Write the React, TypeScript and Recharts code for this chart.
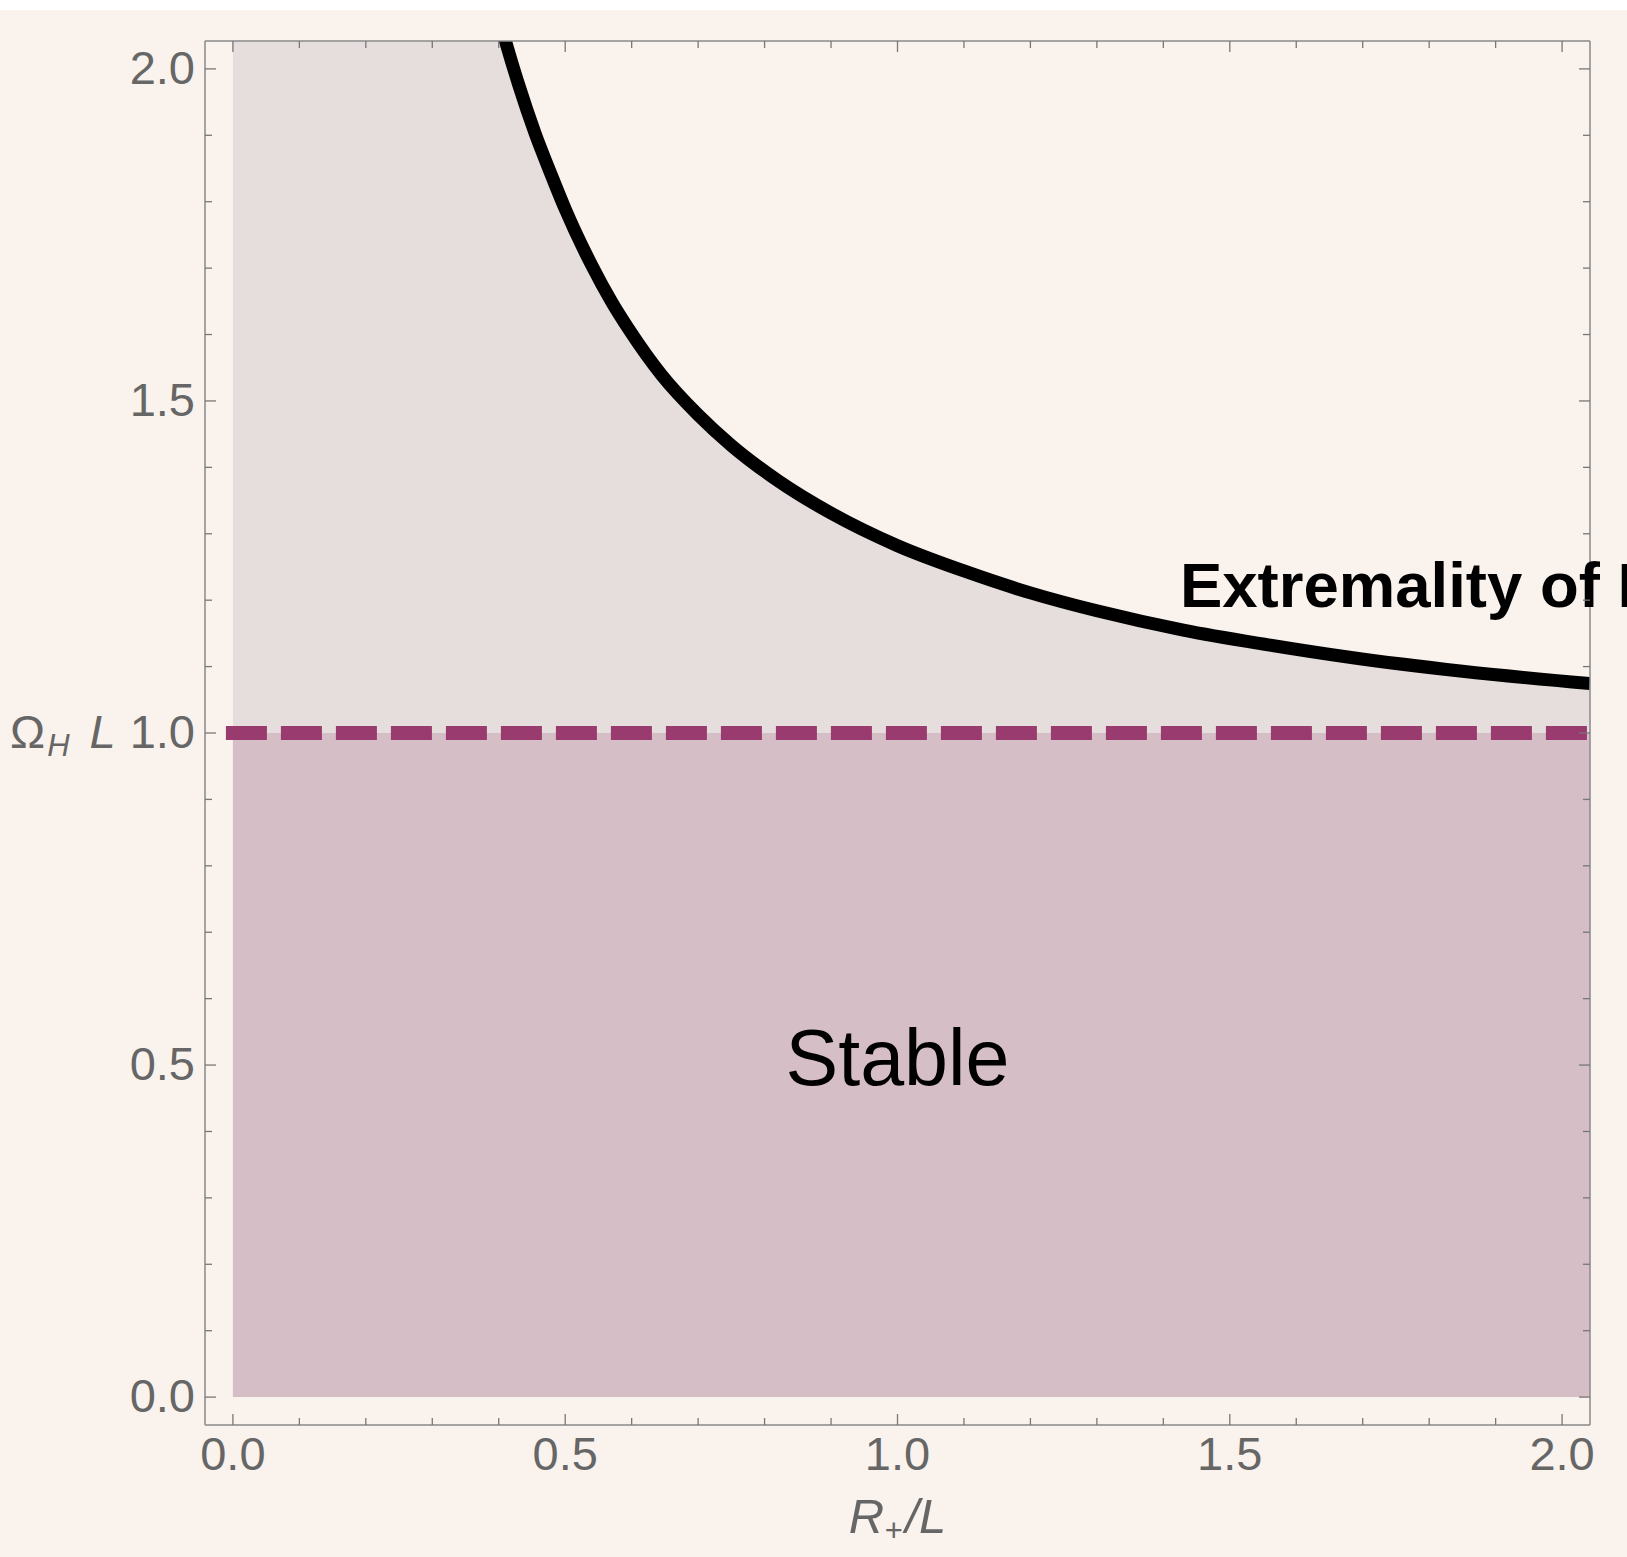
import React from 'react';
import {
  ComposedChart,
  XAxis,
  YAxis,
  Line,
  Area,
  ReferenceArea,
  ReferenceLine,
  ReferenceDot,
} from 'recharts';

const FONT = '"Liberation Sans", Arial, Helvetica, sans-serif';
const BG = '#FAF2EC';
const BAND = '#E6DEDD';
const STABLE = '#D5BEC6';
const DASH = '#993B6F';
const FRAME = '#8A8A8A';
const TICK = '#777777';
const LABEL = '#666666';

// axis ranges (frame padding included)
const xMin = -0.042;
const xMax = 2.042;
const yMin = -0.042;
const yMax = 2.042;

// tick values (major ticks carry labels)
const tickValues = [
  0, 0.1, 0.2, 0.3, 0.4, 0.5, 0.6, 0.7, 0.8, 0.9, 1.0, 1.1, 1.2, 1.3, 1.4, 1.5,
  1.6, 1.7, 1.8, 1.9, 2.0,
];
const majorTicks = [0, 0.5, 1.0, 1.5, 2.0];

// extremality curve: R+/L -> Omega_H L
const curveR = [
  0.403, 0.4104, 0.43, 0.4543, 0.48, 0.5, 0.539, 0.57, 0.597, 0.645, 0.7, 0.75,
  0.82, 0.9, 1.0, 1.1, 1.2, 1.3, 1.43, 1.55, 1.68, 1.85, 2.042,
];
const curveOmega = [
  2.067, 2.041, 1.976, 1.904, 1.838, 1.789, 1.706, 1.649, 1.606, 1.539, 1.479,
  1.433, 1.38, 1.331, 1.282, 1.244, 1.211, 1.184, 1.155, 1.134, 1.114, 1.093,
  1.0745,
];

// superradiance bound Omega_H L = 1 and stable region
const boundOmega = 1;
const stableStart = 0;

// text annotations
const stableLabel = { x: 1.0, y: 0.5, text: 'Stable' };
const extremalLabel = { x: 1.425, y: 1.19, text: 'Extremality of Kerr-AdS' };

const data = [
  { x: stableStart, band: [boundOmega, yMax] as number[] },
  ...curveR.map((r, i) => ({
    x: r,
    omega: curveOmega[i],
    band: [boundOmega, Math.min(curveOmega[i], yMax)],
  })),
];

const isMajor = (v: number) => majorTicks.some((m) => Math.abs(m - v) < 1e-6);
const fmt = (v: number) => v.toFixed(1);

const BottomTick = (props: any) => {
  const { x, y, payload } = props;
  const v = payload.value;
  const major = isMajor(v);
  return (
    <g>
      <line x1={x} x2={x} y1={y} y2={y - (major ? 11 : 7)} stroke={TICK} strokeWidth={1.3} />
      {major && (
        <text x={x} y={y + 45} textAnchor="middle" fontSize={47} fill={LABEL} fontFamily={FONT}>
          {fmt(v)}
        </text>
      )}
    </g>
  );
};

const TopTick = (props: any) => {
  const { x, y, payload } = props;
  const v = payload.value;
  const major = isMajor(v);
  return <line x1={x} x2={x} y1={y} y2={y + (major ? 11 : 7)} stroke={TICK} strokeWidth={1.3} />;
};

const LeftTick = (props: any) => {
  const { x, y, payload } = props;
  const v = payload.value;
  const major = isMajor(v);
  return (
    <g>
      <line x1={x} x2={x + (major ? 11 : 7)} y1={y} y2={y} stroke={TICK} strokeWidth={1.3} />
      {major && (
        <text x={x - 10} y={y + 15} textAnchor="end" fontSize={47} fill={LABEL} fontFamily={FONT}>
          {fmt(v)}
        </text>
      )}
      {Math.abs(v - boundOmega) < 1e-6 && (
        <text x={10} y={y + 15} fontSize={47} fill={LABEL} fontFamily={FONT}>
          <tspan>Ω</tspan>
          <tspan fontSize={31} fontStyle="italic" dy={8} dx={2}>H</tspan>
          <tspan fontStyle="italic" dy={-8} dx={20}>L</tspan>
        </text>
      )}
    </g>
  );
};

const RightTick = (props: any) => {
  const { x, y, payload } = props;
  const v = payload.value;
  const major = isMajor(v);
  return <line x1={x} x2={x - (major ? 11 : 7)} y1={y} y2={y} stroke={TICK} strokeWidth={1.3} />;
};

const XTitle = (props: any) => {
  const vb = props.viewBox || { x: 205, y: 1425, width: 1385 };
  const cx = vb.x + vb.width / 2;
  return (
    <text x={cx} y={vb.y + 108} textAnchor="middle" fontSize={49} fill={LABEL} fontFamily={FONT} fontStyle="italic">
      <tspan>R</tspan>
      <tspan fontSize={31} dy={8}>+</tspan>
      <tspan dy={-8} dx={3}>/L</tspan>
    </text>
  );
};

export default function App() {
  return (
    <div
      style={{
        position: 'absolute',
        left: 0,
        top: 0,
        width: 1627,
        height: 1557,
        overflow: 'hidden',
        background: BG,
      }}
    >
      <div style={{ position: 'absolute', left: 0, top: 0, width: 1627, height: 10, background: '#FFFFFF' }} />
      <div style={{ position: 'absolute', left: 0, top: 0 }}>
        <ComposedChart width={1627} height={1557} data={data} margin={{ top: 0, right: 0, bottom: 0, left: 0 }}>
          <XAxis
            dataKey="x"
            type="number"
            domain={[xMin, xMax]}
            allowDataOverflow
            ticks={tickValues}
            interval={0}
            orientation="bottom"
            height={132}
            tickSize={0}
            tickMargin={0}
            tickLine={false}
            axisLine={{ stroke: FRAME, strokeWidth: 1.5 }}
            tick={<BottomTick />}
            label={{ content: (p: any) => <XTitle {...p} /> }}
          />
          <XAxis
            xAxisId="top"
            dataKey="x"
            type="number"
            domain={[xMin, xMax]}
            allowDataOverflow
            ticks={tickValues}
            interval={0}
            orientation="top"
            height={41}
            tickSize={0}
            tickMargin={0}
            tickLine={false}
            axisLine={{ stroke: FRAME, strokeWidth: 1.5 }}
            tick={<TopTick />}
          />
          <YAxis
            type="number"
            domain={[yMin, yMax]}
            allowDataOverflow
            ticks={tickValues}
            interval={0}
            orientation="left"
            width={205}
            tickSize={0}
            tickMargin={0}
            tickLine={false}
            axisLine={{ stroke: FRAME, strokeWidth: 1.5 }}
            tick={<LeftTick />}
          />
          <YAxis
            yAxisId="right"
            type="number"
            domain={[yMin, yMax]}
            allowDataOverflow
            ticks={tickValues}
            interval={0}
            orientation="right"
            width={37}
            tickSize={0}
            tickMargin={0}
            tickLine={false}
            axisLine={{ stroke: FRAME, strokeWidth: 1.5 }}
            tick={<RightTick />}
          />
          <ReferenceArea
            x1={stableStart}
            x2={xMax}
            y1={0}
            y2={boundOmega}
            fill={STABLE}
            fillOpacity={1}
            stroke="none"
            ifOverflow="hidden"
          />
          <Area
            dataKey="band"
            type="monotone"
            fill={BAND}
            fillOpacity={1}
            stroke="none"
            isAnimationActive={false}
            activeDot={false}
          />
          <ReferenceLine
            segment={[
              { x: stableStart, y: boundOmega },
              { x: xMax, y: boundOmega },
            ]}
            stroke={DASH}
            strokeWidth={14}
            strokeDasharray="27 28"
            strokeLinecap="square"
            ifOverflow="hidden"
          />
          <Line
            dataKey="omega"
            type="monotone"
            stroke="#000000"
            strokeWidth={13}
            dot={false}
            activeDot={false}
            connectNulls={false}
            isAnimationActive={false}
          />
          <ReferenceDot
            x={stableLabel.x}
            y={stableLabel.y}
            r={0}
            ifOverflow="visible"
            shape={(p: any) => (
              <text x={p.cx} y={p.cy + 20} textAnchor="middle" fontSize={79} fill="#000" fontFamily={FONT}>
                {stableLabel.text}
              </text>
            )}
          />
          <ReferenceDot
            x={extremalLabel.x}
            y={extremalLabel.y}
            r={0}
            ifOverflow="visible"
            shape={(p: any) => (
              <text x={p.cx} y={p.cy} textAnchor="start" fontSize={63.5} fontWeight="bold" fill="#000" fontFamily={FONT}>
                {extremalLabel.text}
              </text>
            )}
          />
        </ComposedChart>
      </div>
    </div>
  );
}
